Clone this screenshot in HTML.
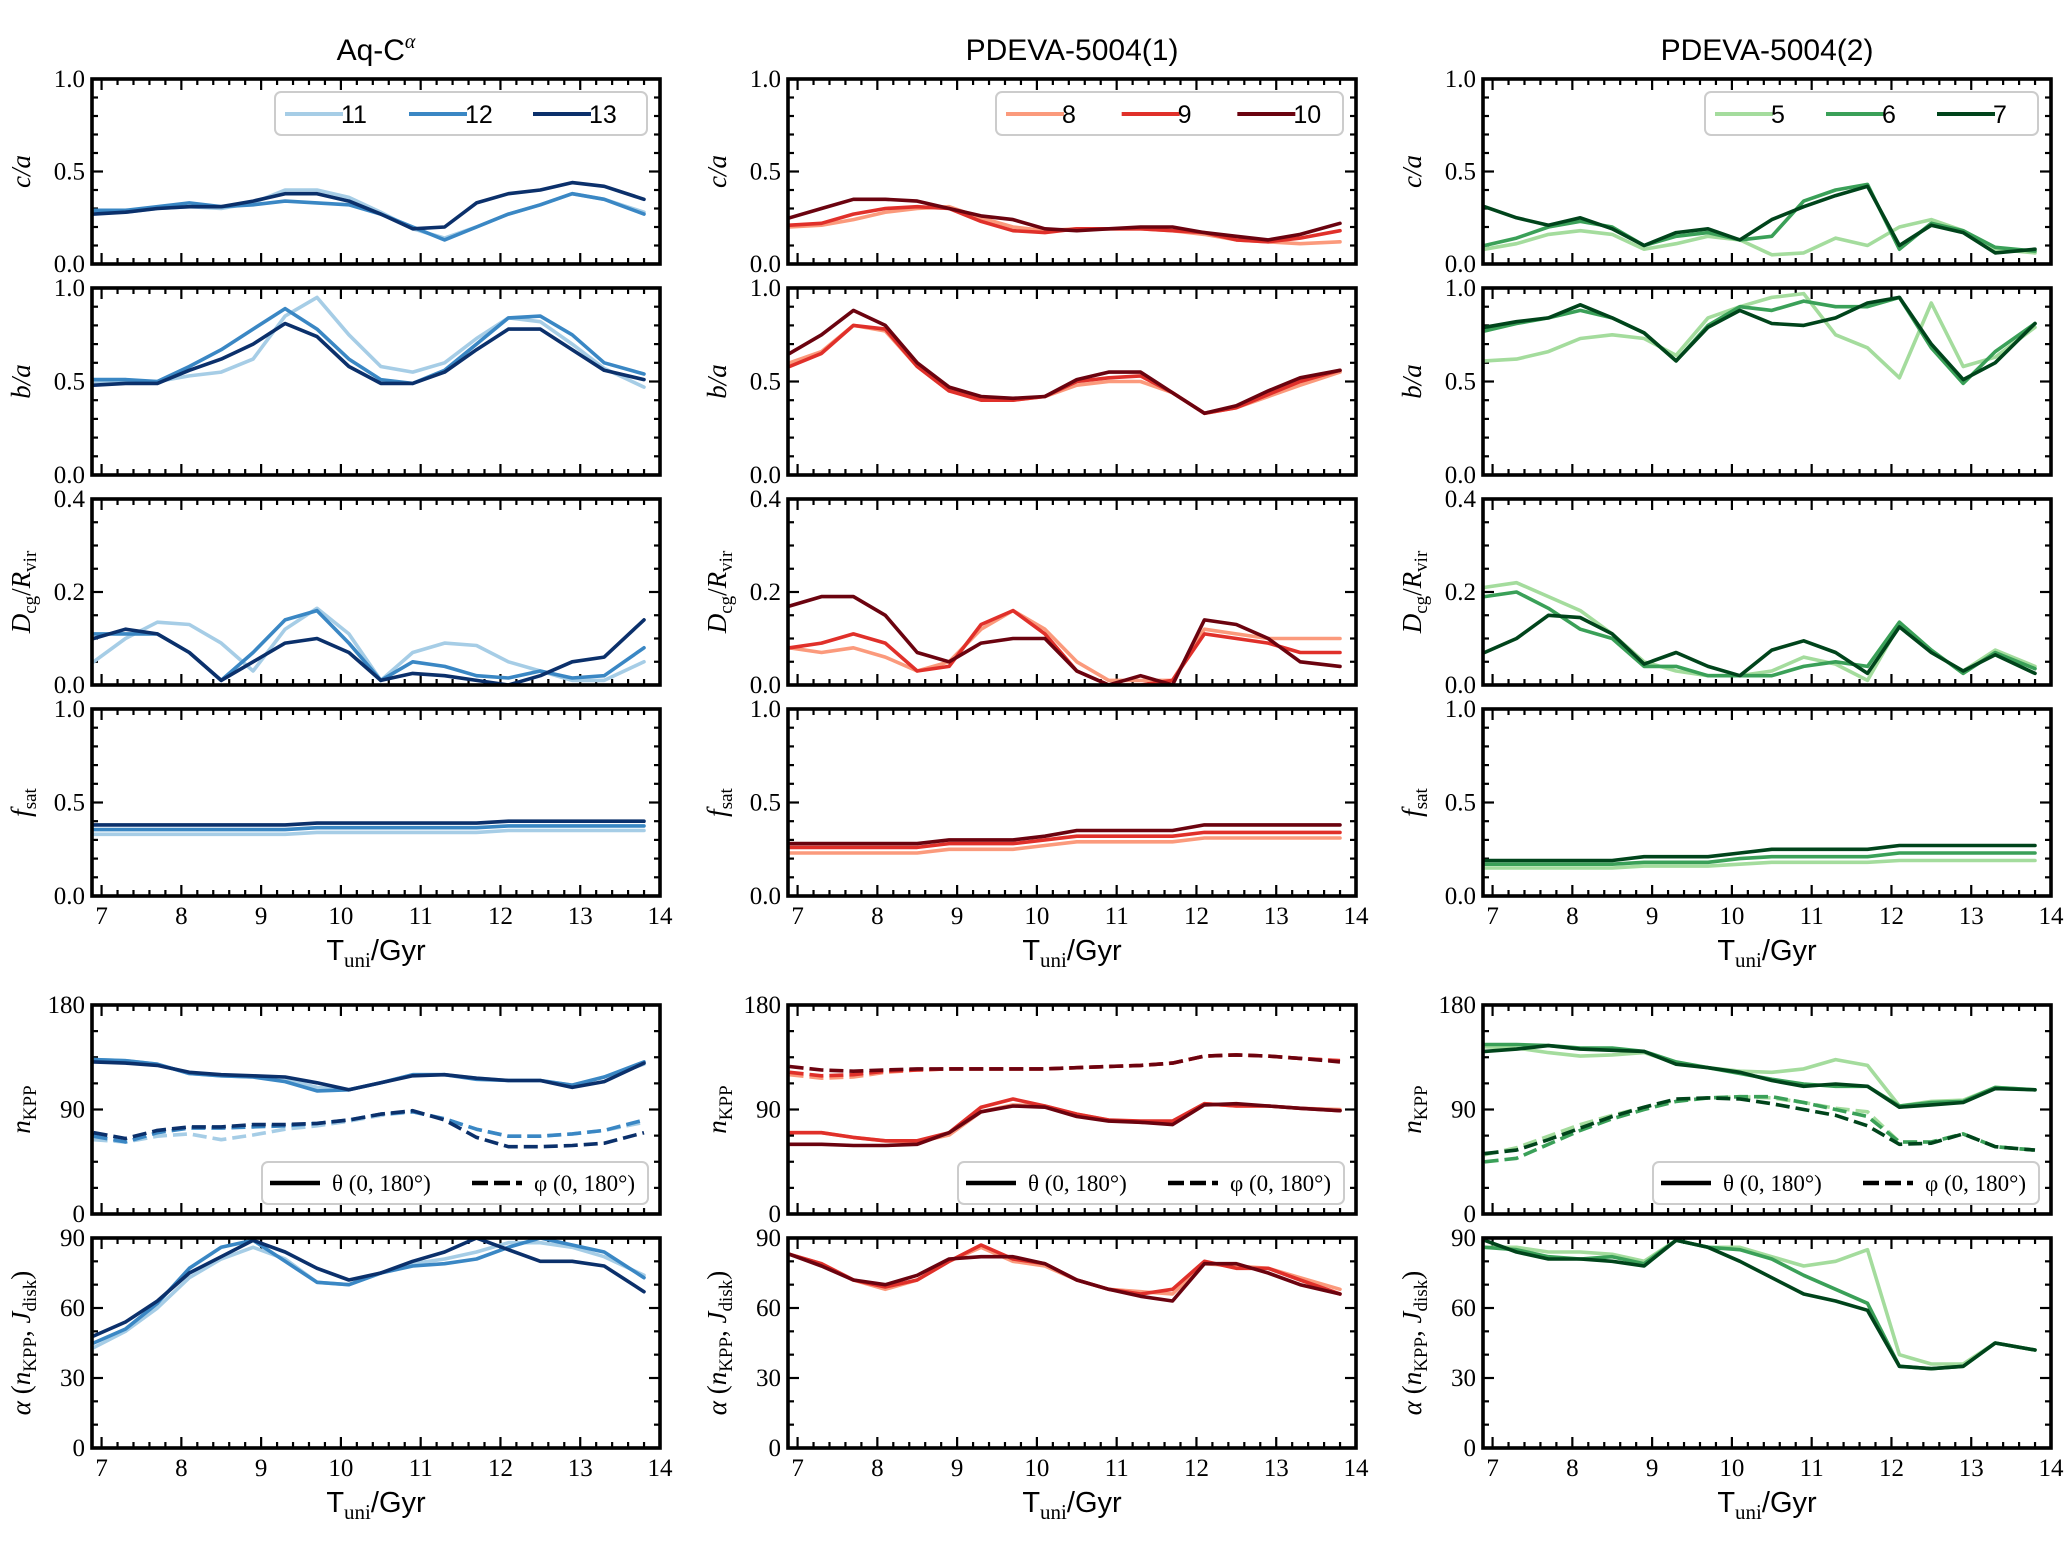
<!DOCTYPE html>
<html><head><meta charset="utf-8"><style>
html,body{margin:0;padding:0;background:#fff;}
svg{display:block;}
</style></head><body>
<svg id="fig" width="2070" height="1558" viewBox="0 0 2070 1558" xmlns="http://www.w3.org/2000/svg"></svg>
<script>
// ---------- shared time grid (Gyr) ----------
const tGrid = [6.9,7.3,7.7,8.1,8.5,8.9,9.3,9.7,10.1,10.5,10.9,11.3,11.7,12.1,12.5,12.9,13.3,13.8];
const xTicks = [7,8,9,10,11,12,13,14];

// ---------- Aq-C alpha (halos 11,12,13) ----------
const aqLabels = ["11","12","13"];
const aqCa11 = [0.28,0.28,0.30,0.31,0.30,0.33,0.40,0.40,0.36,0.28,0.19,0.14,0.20,0.27,0.32,0.38,0.35,0.28];
const aqCa12 = [0.29,0.29,0.31,0.33,0.31,0.32,0.34,0.33,0.32,0.27,0.20,0.13,0.20,0.27,0.32,0.38,0.35,0.27];
const aqCa13 = [0.27,0.28,0.30,0.31,0.31,0.34,0.38,0.38,0.34,0.27,0.19,0.20,0.33,0.38,0.40,0.44,0.42,0.35];
const aqBa11 = [0.50,0.50,0.50,0.53,0.55,0.62,0.85,0.95,0.75,0.58,0.55,0.60,0.73,0.84,0.82,0.70,0.57,0.47];
const aqBa12 = [0.51,0.51,0.50,0.58,0.67,0.78,0.89,0.78,0.62,0.51,0.49,0.56,0.70,0.84,0.85,0.75,0.60,0.54];
const aqBa13 = [0.48,0.49,0.49,0.56,0.62,0.70,0.81,0.74,0.58,0.49,0.49,0.55,0.67,0.78,0.78,0.67,0.56,0.51];
const aqD11 = [0.05,0.10,0.135,0.13,0.09,0.03,0.12,0.165,0.11,0.01,0.07,0.09,0.085,0.05,0.03,0.01,0.01,0.05];
const aqD12 = [0.11,0.11,0.11,0.07,0.01,0.07,0.14,0.16,0.09,0.01,0.05,0.04,0.02,0.015,0.03,0.015,0.02,0.08];
const aqD13 = [0.10,0.12,0.11,0.07,0.01,0.05,0.09,0.10,0.07,0.01,0.025,0.02,0.01,0.0,0.02,0.05,0.06,0.14];
const aqF11 = [0.33,0.33,0.33,0.33,0.33,0.33,0.33,0.34,0.34,0.34,0.34,0.34,0.34,0.35,0.35,0.35,0.35,0.35];
const aqF12 = [0.355,0.355,0.355,0.355,0.355,0.355,0.355,0.365,0.365,0.365,0.365,0.365,0.365,0.375,0.375,0.375,0.375,0.375];
const aqF13 = [0.38,0.38,0.38,0.38,0.38,0.38,0.38,0.39,0.39,0.39,0.39,0.39,0.39,0.40,0.40,0.40,0.40,0.40];
const aqTh11 = [133,132,129,121,119,118,116,109,107,113,120,120,117,115,115,111,118,129];
const aqTh12 = [133,132,129,121,119,118,114,106,107,113,120,120,116,115,115,111,118,131];
const aqTh13 = [131,130,128,122,120,119,118,113,107,113,119,120,117,115,115,109,114,130];
const aqPh11 = [64,62,67,69,64,68,73,76,80,85,88,82,73,67,67,69,72,79];
const aqPh12 = [67,62,70,74,74,75,76,78,81,86,88,82,73,67,67,69,72,81];
const aqPh13 = [70,65,72,75,75,77,77,78,81,86,89,81,66,58,58,59,61,70];
const aqAl11 = [43,50,60,73,81,86,81,71,70,75,79,81,84,88,88,86,82,74];
const aqAl12 = [45,51,62,77,86,89,80,71,70,75,78,79,81,86,90,87,84,73];
const aqAl13 = [48,54,63,75,82,89,84,77,72,75,80,84,90,85,80,80,78,67];

// ---------- PDEVA-5004(1) (8,9,10) ----------
const p1Labels = ["8","9","10"];
const p1Ca8  = [0.20,0.21,0.24,0.28,0.30,0.31,0.25,0.20,0.18,0.19,0.19,0.19,0.18,0.16,0.13,0.12,0.11,0.12];
const p1Ca9  = [0.21,0.22,0.27,0.30,0.31,0.30,0.23,0.18,0.17,0.19,0.19,0.19,0.18,0.17,0.13,0.12,0.14,0.18];
const p1Ca10 = [0.25,0.30,0.35,0.35,0.34,0.30,0.26,0.24,0.19,0.18,0.19,0.20,0.20,0.17,0.15,0.13,0.16,0.22];
const p1Ba8  = [0.60,0.66,0.80,0.77,0.58,0.45,0.41,0.40,0.42,0.48,0.50,0.50,0.44,0.33,0.36,0.42,0.48,0.55];
const p1Ba9  = [0.58,0.65,0.80,0.78,0.58,0.45,0.40,0.40,0.42,0.50,0.52,0.53,0.44,0.33,0.36,0.43,0.50,0.56];
const p1Ba10 = [0.65,0.75,0.88,0.80,0.60,0.47,0.42,0.41,0.42,0.51,0.55,0.55,0.44,0.33,0.37,0.45,0.52,0.56];
const p1D8  = [0.08,0.07,0.08,0.06,0.03,0.05,0.12,0.16,0.12,0.05,0.01,0.01,0.01,0.12,0.11,0.10,0.10,0.10];
const p1D9  = [0.08,0.09,0.11,0.09,0.03,0.04,0.13,0.16,0.11,0.03,0.00,0.00,0.01,0.11,0.10,0.09,0.07,0.07];
const p1D10 = [0.17,0.19,0.19,0.15,0.07,0.05,0.09,0.10,0.10,0.03,0.00,0.02,0.00,0.14,0.13,0.10,0.05,0.04];
const p1F8  = [0.23,0.23,0.23,0.23,0.23,0.25,0.25,0.25,0.27,0.29,0.29,0.29,0.29,0.31,0.31,0.31,0.31,0.31];
const p1F9  = [0.26,0.26,0.26,0.26,0.26,0.28,0.28,0.28,0.30,0.32,0.32,0.32,0.32,0.34,0.34,0.34,0.34,0.34];
const p1F10 = [0.28,0.28,0.28,0.28,0.28,0.30,0.30,0.30,0.32,0.35,0.35,0.35,0.35,0.38,0.38,0.38,0.38,0.38];
const p1Th8  = [70,70,66,63,62,68,88,94,93,86,81,79,78,95,93,93,91,90];
const p1Th9  = [70,70,66,63,63,70,92,99,93,86,81,80,80,95,93,93,91,89];
const p1Th10 = [60,60,59,59,60,70,88,93,92,84,80,79,77,94,95,93,91,89];
const p1Ph8  = [120,117,118,122,124,125,125,125,125,126,127,128,130,136,137,136,134,132];
const p1Ph9  = [122,119,120,123,124,125,125,125,125,126,127,128,130,136,137,136,134,132];
const p1Ph10 = [127,124,123,124,125,125,125,125,125,126,127,128,130,136,137,136,134,131];
const p1Al8  = [83,79,72,68,72,80,86,80,78,72,68,67,66,79,78,77,73,68];
const p1Al9  = [83,79,72,69,72,80,87,81,79,72,68,66,68,80,77,77,72,66];
const p1Al10 = [83,78,72,70,74,81,82,82,79,72,68,65,63,79,79,75,70,66];

// ---------- PDEVA-5004(2) (5,6,7) ----------
const p2Labels = ["5","6","7"];
const p2Ca5 = [0.08,0.11,0.16,0.18,0.16,0.08,0.11,0.15,0.13,0.05,0.06,0.14,0.10,0.20,0.24,0.18,0.08,0.06];
const p2Ca6 = [0.10,0.14,0.20,0.23,0.20,0.10,0.15,0.17,0.13,0.15,0.34,0.40,0.43,0.08,0.22,0.18,0.09,0.07];
const p2Ca7 = [0.31,0.25,0.21,0.25,0.19,0.10,0.17,0.19,0.13,0.24,0.31,0.37,0.42,0.10,0.21,0.17,0.06,0.08];
const p2Ba5 = [0.61,0.62,0.66,0.73,0.75,0.73,0.64,0.84,0.90,0.95,0.97,0.75,0.68,0.52,0.92,0.58,0.63,0.79];
const p2Ba6 = [0.77,0.81,0.84,0.88,0.84,0.76,0.61,0.80,0.90,0.88,0.93,0.90,0.90,0.95,0.68,0.49,0.66,0.81];
const p2Ba7 = [0.79,0.82,0.84,0.91,0.84,0.76,0.61,0.79,0.88,0.81,0.80,0.84,0.92,0.95,0.70,0.51,0.60,0.81];
const p2D5 = [0.21,0.22,0.19,0.16,0.11,0.05,0.03,0.02,0.02,0.03,0.06,0.045,0.01,0.13,0.07,0.03,0.075,0.04];
const p2D6 = [0.19,0.20,0.165,0.12,0.10,0.04,0.04,0.02,0.02,0.02,0.04,0.05,0.04,0.135,0.075,0.025,0.07,0.035];
const p2D7 = [0.07,0.10,0.15,0.145,0.11,0.045,0.07,0.04,0.02,0.075,0.095,0.07,0.025,0.125,0.07,0.03,0.065,0.025];
const p2F5 = [0.15,0.15,0.15,0.15,0.15,0.16,0.16,0.16,0.17,0.18,0.18,0.18,0.18,0.19,0.19,0.19,0.19,0.19];
const p2F6 = [0.17,0.17,0.17,0.17,0.17,0.18,0.18,0.18,0.20,0.21,0.21,0.21,0.21,0.23,0.23,0.23,0.23,0.23];
const p2F7 = [0.19,0.19,0.19,0.19,0.19,0.21,0.21,0.21,0.23,0.25,0.25,0.25,0.25,0.27,0.27,0.27,0.27,0.27];
const p2Th5 = [144,143,139,136,137,139,130,126,123,122,125,133,128,93,97,98,109,107];
const p2Th6 = [146,146,145,143,143,140,131,126,121,116,112,110,110,93,96,97,109,107];
const p2Th7 = [140,142,145,142,141,140,129,126,122,115,110,112,110,92,94,96,108,107];
const p2Ph5 = [51,57,67,77,85,92,98,100,101,100,96,91,88,62,62,69,58,55];
const p2Ph6 = [45,48,60,72,82,90,97,100,101,101,96,90,84,62,62,69,58,55];
const p2Ph7 = [52,55,64,74,84,92,99,100,99,95,90,85,76,60,61,69,58,55];
const p2Al5 = [86,86,84,84,83,80,89,86,86,82,78,80,85,40,36,36,45,42];
const p2Al6 = [86,85,82,81,82,79,89,86,85,81,74,68,62,35,34,35,45,42];
const p2Al7 = [89,84,81,81,80,78,89,86,80,73,66,63,59,35,34,35,45,42];

// ---------- layout ----------
const NS = "http://www.w3.org/2000/svg";
const svg = document.getElementById("fig");
const colLeft = [92, 788, 1483];
const colW = 568;
const xMin = 6.88, xMax = 14;
const rows = [
  {top:79,  bot:264, min:0, max:1,   major:0.5, minor:0.1,  fmt:v=>v.toFixed(1), name:"c-over-a"},
  {top:288, bot:475, min:0, max:1,   major:0.5, minor:0.1,  fmt:v=>v.toFixed(1), name:"b-over-a"},
  {top:499, bot:685, min:0, max:0.4, major:0.2, minor:0.05, fmt:v=>v.toFixed(1), name:"dcg-over-rvir"},
  {top:709, bot:896, min:0, max:1,   major:0.5, minor:0.1,  fmt:v=>v.toFixed(1), name:"f-sat"},
  {top:1005,bot:1214,min:0, max:180, major:90,  minor:22.5, fmt:v=>String(v),   name:"n-kpp"},
  {top:1238,bot:1448,min:0, max:90,  major:30,  minor:10,   fmt:v=>String(v),   name:"alpha"}
];
const cols = [
  {title:"Aq-C", sup:"α", labels:aqLabels, colors:["#a6cde6","#3a87c4","#0b306b"],
   data:[[aqCa11,aqCa12,aqCa13],[aqBa11,aqBa12,aqBa13],[aqD11,aqD12,aqD13],[aqF11,aqF12,aqF13],[aqTh11,aqTh12,aqTh13],[aqAl11,aqAl12,aqAl13]],
   phi:[aqPh11,aqPh12,aqPh13], key:"aq"},
  {title:"PDEVA-5004(1)", sup:"", labels:p1Labels, colors:["#fb9a7c","#e0302a","#6b030f"],
   data:[[p1Ca8,p1Ca9,p1Ca10],[p1Ba8,p1Ba9,p1Ba10],[p1D8,p1D9,p1D10],[p1F8,p1F9,p1F10],[p1Th8,p1Th9,p1Th10],[p1Al8,p1Al9,p1Al10]],
   phi:[p1Ph8,p1Ph9,p1Ph10], key:"pdeva1"},
  {title:"PDEVA-5004(2)", sup:"", labels:p2Labels, colors:["#a4dc9d","#3aa058","#00441b"],
   data:[[p2Ca5,p2Ca6,p2Ca7],[p2Ba5,p2Ba6,p2Ba7],[p2D5,p2D6,p2D7],[p2F5,p2F6,p2F7],[p2Th5,p2Th6,p2Th7],[p2Al5,p2Al6,p2Al7]],
   phi:[p2Ph5,p2Ph6,p2Ph7], key:"pdeva2"}
];

function mk(tag, attrs, parent){
  const e = document.createElementNS(NS, tag);
  for (const k in attrs) e.setAttribute(k, attrs[k]);
  (parent||svg).appendChild(e);
  return e;
}
const SERIF = '"Liberation Serif", "DejaVu Serif", serif';
const SANS = '"Liberation Sans", "DejaVu Sans", sans-serif';

function xScale(ci, v){ return colLeft[ci] + (v - xMin) / (xMax - xMin) * colW; }
function yScale(r, v){ return r.bot - (v - r.min) / (r.max - r.min) * (r.bot - r.top); }

const yLabelParts = [
  [["c/a","i"]],
  [["b/a","i"]],
  [["D","i"],["cg","s"],["/","n"],["R","i"],["vir","s"]],
  [["f","i"],["sat","s"]],
  [["n","v"],["KPP","s"]],
  [["α","i"],[" (","n"],["n","v"],["KPP","s"],[", ","n"],["J","v"],["disk","s"],[")","n"]]
];
function yLabel(ri, x, y, g){
  const t = mk("text", {x:x, y:y, "font-family":SERIF, "font-size":27, "text-anchor":"middle",
    transform:"rotate(-90 "+x+" "+y+")"}, g);
  
  
  let inSub = false;
  yLabelParts[ri].forEach(p=>{
    const s = mk("tspan", {}, t);
    s.textContent = p[0];
    if (p[1]==="s"){
      s.setAttribute("font-size","19");
      if (!inSub) s.setAttribute("dy","6");
      inSub = true;
    } else {
      if (p[1]==="i" || p[1]==="v") s.setAttribute("font-style","italic");
      if (inSub) s.setAttribute("dy","-6");
      inSub = false;
    }
  });
}

cols.forEach((c, ci) => {
  const cg = mk("g", {});
  
  
  const tt = mk("text", {x: colLeft[ci] + colW/2, y: 60, "font-family":SANS, "font-size":30, "text-anchor":"middle"}, cg);
  
  
  tt.textContent = c.title;
  if (c.sup){ const s = mk("tspan", {dy:-12, "font-size":20, "font-family":SERIF, "font-style":"italic"}, tt); s.textContent = c.sup; }

  rows.forEach((r, ri) => {
    const g = mk("g", {}, cg);
    
    
    const L = colLeft[ci], R = L + colW;
    const cid = "clip"+ci+"_"+ri;
    const cp = mk("clipPath", {id:cid}, g);
    mk("rect", {x:L, y:r.top, width:colW, height:r.bot-r.top}, cp);
    for (let v = 7; v <= 14.0001; v += 0.2){
      const vv = Math.round(v*10)/10;
      const major = Math.abs(vv - Math.round(vv)) < 1e-6;
      const len = major ? 11 : 6;
      const x = xScale(ci, vv);
      mk("line", {x1:x, x2:x, y1:r.bot, y2:r.bot-len, stroke:"#000", "stroke-width":2.2}, g);
      mk("line", {x1:x, x2:x, y1:r.top, y2:r.top+len, stroke:"#000", "stroke-width":2.2}, g);
    }
    const nMin = Math.round((r.max - r.min) / r.minor);
    for (let i = 0; i <= nMin; i++){
      const v = r.min + i * r.minor;
      const ratio = v / r.major;
      const major = Math.abs(ratio - Math.round(ratio)) < 1e-6;
      const len = major ? 11 : 6;
      const y = yScale(r, v);
      mk("line", {x1:L, x2:L+len, y1:y, y2:y, stroke:"#000", "stroke-width":2.2}, g);
      mk("line", {x1:R, x2:R-len, y1:y, y2:y, stroke:"#000", "stroke-width":2.2}, g);
      if (major){
        const lt = mk("text", {x:L-7, y:y+8, "font-family":SERIF, "font-size":25, "text-anchor":"end"}, g);
        
        
        lt.textContent = r.fmt(v);
      }
    }
    if (ri === 3 || ri === 5){
      xTicks.forEach(v => {
        const lt = mk("text", {x:xScale(ci, v), y:r.bot+28, "font-family":SERIF, "font-size":25, "text-anchor":"middle"}, g);
        
        
        lt.textContent = String(v);
      });
      const xl = mk("text", {x:L+colW/2, y:r.bot+64, "font-family":SANS, "font-size":29, "text-anchor":"middle"}, g);
      
      
      const s0 = mk("tspan", {}, xl); s0.textContent = "T";
      const s1 = mk("tspan", {dy:7, "font-size":21, "font-family":SERIF}, xl); s1.textContent = "uni";
      const s2 = mk("tspan", {dy:-7}, xl); s2.textContent = "/Gyr";
    }
    yLabel(ri, L - 62, (r.top + r.bot)/2, g);

    const lg = mk("g", {"clip-path":"url(#"+cid+")"}, g);
    const drawLine = (arr, color, dashed, label) => {
      const d = arr.map((v, i) => (i ? "L" : "M") + xScale(ci, tGrid[i]).toFixed(1) + " " + yScale(r, v).toFixed(1)).join(" ");
      const p = mk("path", {d:d, fill:"none", stroke:color, "stroke-width":3.6, "stroke-linejoin":"round", "stroke-linecap": dashed ? "butt" : "round"}, lg);
      if (dashed) p.setAttribute("stroke-dasharray", "14 6");
      
      
    };
    c.data[ri].forEach((arr, si) => drawLine(arr, c.colors[si], false, 'series-' + c.labels[si] + (ri===4 ? '-theta' : '')));
    if (ri === 4) c.phi.forEach((arr, si) => drawLine(arr, c.colors[si], true, 'series-' + c.labels[si] + '-phi'));

    const fr = mk("rect", {x:L, y:r.top, width:colW, height:r.bot-r.top, fill:"none", stroke:"#000", "stroke-width":3.6}, g);
    
    

    if (ri === 0){
      const lgw = (ci===0 ? 372 : (ci===1 ? 347 : 333)), lgx0 = R - 13 - lgw;
      const lgd = mk("g", {}, g);
      
      
      mk("rect", {x:lgx0, y:92, width:lgw, height:43, rx:6, fill:"#fff", "fill-opacity":0.85, stroke:"#cccccc", "stroke-width":2}, lgd);
      const step = lgw / 3;
      c.labels.forEach((lab, si) => {
        const x0 = lgx0 + 10 + si*step;
        const le = mk("g", {}, lgd);
        
        
        mk("line", {x1:x0, x2:x0+58, y1:114, y2:114, stroke:c.colors[si], "stroke-width":4}, le);
        const tx = mk("text", {x:x0+56, y:123, "font-family":SANS, "font-size":25}, le);
        tx.textContent = lab;
      });
    }
    if (ri === 4){
      const lgw = 386, lgx0 = R - 12 - lgw;
      const lgd = mk("g", {}, g);
      
      
      mk("rect", {x:lgx0, y:1162, width:lgw, height:42, rx:6, fill:"#fff", "fill-opacity":0.85, stroke:"#cccccc", "stroke-width":2}, lgd);
      const e1 = mk("g", {}, lgd);
      
      
      mk("line", {x1:lgx0+8, x2:lgx0+58, y1:1183, y2:1183, stroke:"#000", "stroke-width":4.5}, e1);
      const t1 = mk("text", {x:lgx0+70, y:1191, "font-family":SERIF, "font-size":23}, e1);
      t1.textContent = "θ (0, 180°)";
      const e2 = mk("g", {}, lgd);
      
      
      mk("line", {x1:lgx0+210, x2:lgx0+260, y1:1183, y2:1183, stroke:"#000", "stroke-width":4.5, "stroke-dasharray":"16 6"}, e2);
      const t2 = mk("text", {x:lgx0+272, y:1191, "font-family":SERIF, "font-size":23}, e2);
      t2.textContent = "φ (0, 180°)";
    }
  });
});
</script>
</body></html>
